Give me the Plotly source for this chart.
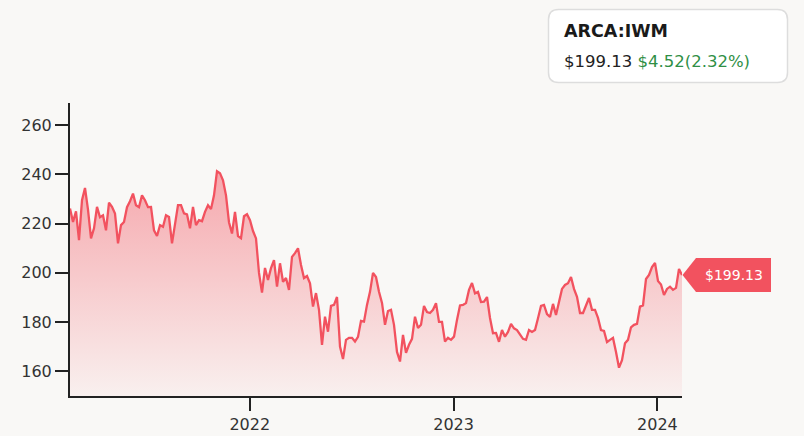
import pandas as pd
import plotly.graph_objects as go

# ---- data ----
ticker = "ARCA:IWM"
last_price = 199.13
change_abs = 4.52
change_pct = 2.32
start_date = "2021-02-13"
end_date = "2024-02-14"

prices = [
    226.2, 220.7, 225.0, 213.3, 229.5, 234.5, 225.7, 214.0, 218.1, 226.8,
    222.6, 223.4, 217.3, 228.5, 226.8, 224.1, 212.0, 219.4, 220.7, 226.7,
    229.1, 232.2, 227.5, 226.7, 231.5, 229.5, 226.7, 226.8, 217.3, 215.0,
    219.4, 218.7, 223.4, 222.7, 212.0, 220.0, 227.5, 227.5, 224.2, 223.8,
    218.1, 226.8, 219.4, 221.4, 221.0, 224.8, 227.5, 225.9, 231.5, 241.3,
    240.5, 237.6, 231.5, 220.6, 216.0, 224.8, 214.9, 214.1, 223.0, 223.8,
    221.4, 217.0, 214.0, 200.0,
    192.0, 202.0, 197.1, 201.9, 205.2, 194.4, 203.9, 196.4, 197.9, 193.1,
    206.5, 208.0, 210.0, 203.2, 197.9, 198.7, 195.8, 186.3, 191.8, 185.0,
    170.8, 182.2, 176.1, 186.6, 187.0, 190.2, 170.1, 165.0, 172.8, 173.6,
    173.6, 172.1, 174.0, 180.5, 180.2, 187.0, 192.3, 200.0, 198.3, 192.3,
    187.8, 178.9, 184.5, 185.0, 178.9, 167.9, 164.0, 174.8, 167.5, 170.8,
    173.2, 182.2, 177.6, 178.9, 186.6, 184.1, 183.7, 185.0, 187.7, 180.1,
    180.1, 172.1, 173.6, 172.8, 174.1, 180.9, 186.8, 187.0, 187.8, 193.1,
    195.9, 191.7, 192.3, 188.2, 188.3, 190.2, 181.7, 175.5, 175.6, 172.0,
    176.8, 174.1, 176.0, 179.3, 177.5, 176.8, 174.8, 173.2, 172.8, 176.8,
    176.0, 176.8, 181.6, 186.6, 187.0, 183.3, 182.1, 187.4, 182.9, 188.2,
    193.5, 195.1, 195.8, 198.3, 193.5, 190.3, 183.7, 183.7, 187.0, 189.8,
    185.0, 185.0, 181.7, 176.8, 176.4, 171.9, 172.8, 173.6, 167.9, 161.5,
    164.5, 171.4, 172.8, 177.9, 178.9, 179.3, 186.3, 186.8, 197.5, 199.2,
    202.4, 204.0, 196.7, 195.3, 191.0, 193.5, 194.4, 193.1, 193.9, 201.6,
    199.13,
]
dates = pd.date_range(start_date, end_date, periods=len(prices))

y_ticks = [160, 180, 200, 220, 240, 260]
x_tick_vals = ["2022-01-01", "2023-01-01", "2024-01-01"]
x_tick_text = ["2022", "2023", "2024"]
y_range = [150, 269]

# ---- layout geometry ----
W, H = 804, 436
L, R, T, B = 70, 122, 103, 40
PW, PH = W - L - R, H - T - B
FONT = "DejaVu Sans"
BG = "#f9f8f6"
RED = "#f2525f"
AXIS = "#222222"


def px(x):
    return (x - L) / PW


def py(y):
    return (H - B - y) / PH


fig = go.Figure()
fig.add_trace(go.Scatter(
    x=dates, y=prices, mode="lines",
    line=dict(color=RED, width=2.3),
    fill="tozeroy",
    fillgradient=dict(
        type="vertical", start=150, stop=245,
        colorscale=[[0, "rgba(242,82,95,0.05)"], [1, "rgba(242,82,95,0.50)"]],
    ),
    hoverinfo="skip",
    showlegend=False,
))

# header box (rounded)
x0, x1, y0, y1, r = 548.5, 787.5, 9.5, 82.5, 10
rx, ry = r / PW, r / PH
hdr = (
    f"M {px(x0)+rx},{py(y0)} L {px(x1)-rx},{py(y0)} Q {px(x1)},{py(y0)} {px(x1)},{py(y0)-ry} "
    f"L {px(x1)},{py(y1)+ry} Q {px(x1)},{py(y1)} {px(x1)-rx},{py(y1)} "
    f"L {px(x0)+rx},{py(y1)} Q {px(x0)},{py(y1)} {px(x0)},{py(y1)+ry} "
    f"L {px(x0)},{py(y0)-ry} Q {px(x0)},{py(y0)} {px(x0)+rx},{py(y0)} Z"
)
shapes = [dict(type="path", xref="paper", yref="paper", path=hdr,
               fillcolor="white", line=dict(color="#dddddd", width=1.5), layer="above")]

# price tag at last value
last_val = prices[-1]
yc = H - B - (last_val - y_range[0]) / (y_range[1] - y_range[0]) * PH
tip, base, right, hh = 682.5, 696, 771, 17
tag = (
    f"M {px(tip)},{py(yc)} L {px(base)},{py(yc-hh)} L {px(right)},{py(yc-hh)} "
    f"L {px(right)},{py(yc+hh)} L {px(base)},{py(yc+hh)} Z"
)
shapes.append(dict(type="path", xref="paper", yref="paper", path=tag,
                   fillcolor=RED, line=dict(width=0), layer="above"))

annotations = [
    dict(xref="paper", yref="paper", x=px(562), y=py(31), xanchor="left", yanchor="middle",
         text=f"<b>{ticker}</b>", showarrow=False,
         font=dict(family=FONT, size=17.5, color="#1a1a1a")),
    dict(xref="paper", yref="paper", x=px(562), y=py(61), xanchor="left", yanchor="middle",
         text=f"${last_price:.2f} <span style='color:#2f8f46'>${change_abs:.2f}({change_pct:.2f}%)</span>",
         showarrow=False, font=dict(family=FONT, size=16.5, color="#222222")),
    dict(xref="paper", yref="paper", x=px((base + right) / 2), y=py(yc), xanchor="center",
         yanchor="middle", text=f"${last_val:.2f}", showarrow=False,
         font=dict(family=FONT, size=14, color="white")),
]

fig.update_layout(
    width=W, height=H,
    margin=dict(l=L, r=R, t=T, b=B, autoexpand=False),
    paper_bgcolor=BG, plot_bgcolor=BG,
    font=dict(family=FONT, size=16, color="#333333"),
    shapes=shapes, annotations=annotations,
    xaxis=dict(
        range=[dates[0], dates[-1]], showgrid=False, zeroline=False, automargin=False,
        showline=True, linecolor=AXIS, linewidth=2,
        ticks="outside", ticklen=13, tickwidth=2, tickcolor=AXIS,
        tickvals=x_tick_vals, ticktext=x_tick_text,
        tickfont=dict(family=FONT, size=16, color="#333333"),
    ),
    yaxis=dict(
        range=y_range, showgrid=False, zeroline=False, automargin=False,
        showline=True, linecolor=AXIS, linewidth=2,
        ticks="outside", ticklen=13, tickwidth=2, tickcolor=AXIS,
        tickvals=y_ticks,
        tickfont=dict(family=FONT, size=16, color="#333333"),
    ),
)

fig.write_html(
    "out.html",
    config={"displayModeBar": False},
    post_script="document.body.style.margin='0';document.body.style.background='#f9f8f6';",
)
